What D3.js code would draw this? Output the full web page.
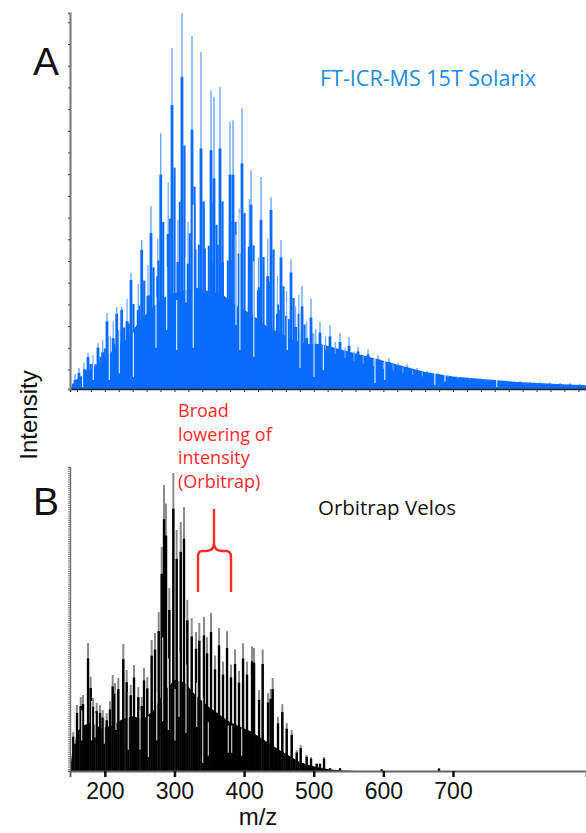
<!DOCTYPE html>
<meta charset="utf-8">
<title>FT-ICR-MS vs Orbitrap</title>
<script src="https://cdnjs.cloudflare.com/ajax/libs/d3/7.8.5/d3.min.js"></script>
<style>
  body { margin: 0; background: #fff; }
  svg { display: block; }
  .lbl { font-family: "Liberation Sans", Arial, sans-serif; fill: #111; }
  .note { font-family: "Open Sans", sans-serif; }
</style>
<body>
<svg></svg>
<script>
var width = 586, height = 833;

// panel A (FT-ICR) : main clusters [m/z, tip, body]
var clustersA = [
  [157.2, 4, 2.4], [162.9, 5.6, 4.3], [175.9, 9.6, 8.5], [190.2, 12.2, 11],
  [203.1, 20.2, 18], [217.1, 21.8, 20], [224.2, 21.8, 21], [237.6, 30.9, 29],
  [253, 39.6, 37], [266.3, 48.7, 41.5], [280.3, 68, 57], [296.5, 90.7, 75.5],
  [310.8, 100, 83], [325.2, 93.9, 69], [338.1, 89.6, 64], [352.5, 79.3, 63.5],
  [356.8, 77.7, 56], [365.4, 80.3, 64], [379.8, 71, 57], [384.1, 71.5, 57],
  [397, 74.7, 60], [410, 58.2, 49], [424.3, 56.4, 45], [438.7, 51, 47.6],
  [453, 39.6, 35], [467.4, 34.6, 31], [478.9, 25, 20], [483.2, 27.4, 22],
  [496.1, 24, 19], [509, 17.8, 15], [523.4, 17, 14], [537.8, 14.9, 12.5],
  [550.7, 13.8, 11.5], [563.6, 11.2, 10], [578, 10.6, 9.2], [592.3, 9, 8],
  [608.1, 8.2, 7.2], [621, 6.9, 6.2], [634, 6.6, 5.8], [648.3, 5.6, 5],
  [662.7, 4.8, 4.4], [678.5, 4.3, 3.9], [692.9, 3.5, 3.2], [707.2, 3.2, 2.9],
  [724.5, 2.9, 2.6], [738.8, 2.9, 2.5], [753.2, 2.6, 2.3], [767.5, 2.4, 2.1],
  [781.9, 2.2, 1.9], [796.3, 2.1, 1.8], [810.6, 1.9, 1.6], [825, 1.8, 1.5],
  [839.4, 1.7, 1.4], [853.7, 1.6, 1.3], [868.1, 1.5, 1.2], [882.4, 1.4, 1.1]
];
// smaller peaks between clusters [m/z, height]
var minorA = [
  [170, 7], [183, 9], [197, 13], [212, 18], [232, 24], [248, 28], [262, 33],
  [276, 40], [291, 55], [305, 45], [319.5, 44.4], [329.5, 49.5], [343, 49.8],
  [369, 45], [393, 48], [407.5, 50.5], [420.5, 35], [434, 40], [448, 30], [461, 26],
  [474, 22], [490, 18], [503, 16], [517, 14], [531, 12.5], [545, 11], [558, 10],
  [571, 9], [586, 8], [600, 7.2], [614, 6.5], [628, 5.8], [642, 5], [656, 4.5]
];
// continuous background level [m/z, intensity]
var floorA = [
  [150, 0], [157, 2], [170, 4], [190, 6.5], [210, 10], [230, 13], [250, 18],
  [270, 22], [290, 25], [310, 26], [330, 27], [350, 26], [370, 25], [390, 22],
  [410, 20], [430, 17], [450, 15], [470, 13], [490, 12], [510, 12], [530, 11],
  [550, 10], [570, 9], [600, 7.5], [630, 6], [660, 4.5], [700, 3.3], [750, 2.5],
  [800, 1.8], [850, 1.3], [891, 1]
];
// low points inside the fill [m/z, low, high]
var gapsA = [
  [168, 0.5, 6], [183.5, 2.4, 7], [206.5, 2.4, 15], [220.8, 4.2, 19], [241, 3.2, 15],
  [273.5, 11, 24.5], [288.8, 15.7, 32.5], [303.2, 10.4, 23.7], [316.6, 23, 35],
  [327, 11, 49], [388.4, 17, 41], [394, 10.4, 46.8], [414, 8.6, 34], [446.8, 20, 28],
  [462, 10.4, 23], [480.3, 5.6, 26], [500.4, 3.2, 15.7], [513.8, 5, 17.5],
  [588, 1.6, 8.5], [602, 2.4, 7.7], [674, 1, 4.3], [688.5, 1.9, 4], [762.8, 0.5, 2.4]
];

// panel B (Orbitrap) : spikes [m/z, intensity]
var spikesB = [
  [154.7, 12.8], [160.1, 21.7], [165.4, 24.3], [168.7, 25], [175.9, 42.1], [179.7, 31],
  [183, 24], [188.3, 22.4], [193.1, 21.7], [197, 20], [202.7, 19], [207.4, 23],
  [211.3, 31.6], [214.6, 28.9], [219.4, 30.6], [226.5, 41.8], [231.4, 33.2], [237.2, 28.3],
  [241.9, 34.9], [248.1, 27.6], [253, 24.3], [256.3, 33.9], [261, 30.9], [267.3, 43.1],
  [272.1, 45.4], [277.4, 52.3], [281.7, 73.7], [285, 94.1], [287.9, 88], [292.6, 60.2],
  [298.4, 98], [303.2, 79.3], [309, 81.9], [313.7, 86.8], [318.5, 56.3], [324.8, 50.3],
  [331, 45.7], [335.7, 48.7], [342.4, 50.7], [346.8, 44], [352.5, 52], [358.2, 38],
  [364, 47], [369.7, 36], [375.5, 46], [381.2, 35], [387, 40], [392.7, 33], [398.5, 42],
  [404.2, 36], [411.4, 41], [414.3, 40.5], [421.5, 26.6], [426.7, 40], [434.4, 25.6],
  [438.2, 27], [441.1, 30.6], [448.7, 17.8], [454.9, 22], [461.2, 15.8], [468.4, 13.5],
  [475.6, 6.9], [481.3, 8.5], [489.9, 5.3], [496.1, 4.6], [504.3, 2.6], [509, 2.6],
  [514.8, 4.6], [523.4, 1], [537.8, 1], [597.6, 0.6], [679.9, 0.9]
];
var floorB = [
  [150, 0], [153, 6], [160, 13], [170, 15], [180, 16], [195, 14], [210, 15], [225, 17],
  [240, 18], [255, 17], [270, 20], [285, 26], [300, 30], [315, 29], [330, 25],
  [350, 21], [380, 16], [410, 13], [430, 10], [450, 7], [465, 5], [480, 3],
  [495, 1.8], [510, 1], [525, 0.5], [540, 0.2], [560, 0]
];
var gapsB = [
  [157.2, 9, 21], [166.8, 10, 20], [181, 10, 23], [186, 11, 19], [199.3, 9, 18],
  [216, 13.5, 26.6], [233.7, 7, 26], [250.5, 7, 20], [262.5, 4.6, 18], [274.5, 10, 26],
  [283.1, 16.4, 44], [291.2, 13.5, 37], [300.8, 10, 27], [306.5, 17.8, 39],
  [316.6, 12.5, 35], [332, 14.5, 29], [340.6, 2.6, 24], [348.6, 5, 16],
  [377.3, 6, 15], [382.2, 6, 15], [396.6, 5, 14]
];
var ticksB = [200, 300, 400, 500, 600, 700];

var svg = d3.select("svg").attr("width", width).attr("height", height);

var x = d3.scaleLinear().domain([150, 891]).range([70, 586]);
var yA = d3.scaleLinear().domain([0, 100]).range([389, 13]);
var yB = d3.scaleLinear().domain([0, 100]).range([771, 467]);

var blue = "#0a6cff", blueTip = "#6aa6ff";

function vline(sel, xf, y1f, y2f, color, w) {
  sel.attr("x1", xf).attr("x2", xf).attr("y1", y1f).attr("y2", y2f)
     .attr("stroke", color).attr("stroke-width", w);
}

// ---- panel A ----
var gA = svg.append("g");

gA.append("path")
    .datum(floorA)
    .attr("fill", blue)
    .attr("d", d3.area().x(function(d) { return x(d[0]); }).y0(yA(0)).y1(function(d) { return yA(d[1]); }));

// minor peaks: a thin spike on a narrow base
vline(gA.selectAll(".minor").data(minorA).enter().append("line"),
    function(d) { return x(d[0]); }, yA(0), function(d) { return yA(d[1]); }, blueTip, 1.2);
gA.selectAll(".minorBody")
    .data(minorA)
  .enter().append("rect")
    .attr("x", function(d) { return x(d[0]) - 1.5; })
    .attr("width", 3)
    .attr("y", function(d) { return yA(d[1] * 0.75); })
    .attr("height", function(d) { return yA(0) - yA(d[1] * 0.75); })
    .attr("fill", blue);

// main clusters: thin light tip, solid body with stepped shoulders
vline(gA.selectAll(".tip").data(clustersA).enter().append("line"),
    function(d) { return x(d[0]); }, yA(0), function(d) { return yA(d[1]); }, blueTip, 1.4);

var cl = gA.selectAll(".cluster").data(clustersA).enter().append("g");
cl.append("rect")
    .attr("x", function(d) { return x(d[0]) - 3.2; })
    .attr("width", 2)
    .attr("y", function(d) { return yA(d[2] * 0.6); })
    .attr("height", function(d) { return yA(0) - yA(d[2] * 0.6); })
    .attr("fill", blue);
cl.append("rect")
    .attr("x", function(d) { return x(d[0]) - 1.4; })
    .attr("width", 2.8)
    .attr("y", function(d) { return yA(d[2]); })
    .attr("height", function(d) { return yA(0) - yA(d[2]); })
    .attr("fill", blue);
cl.append("rect")
    .attr("x", function(d) { return x(d[0]) + 1.4; })
    .attr("width", 2.2)
    .attr("y", function(d) { return yA(d[2] * 0.78); })
    .attr("height", function(d) { return yA(0) - yA(d[2] * 0.78); })
    .attr("fill", blue);

vline(gA.selectAll(".gap").data(gapsA).enter().append("line"),
    function(d) { return x(d[0]); }, function(d) { return yA(d[1]); }, function(d) { return yA(d[2]); }, "#eaf2ff", 1.1);

// axes A
gA.append("g")
    .attr("transform", "translate(0," + yA(0) + ")")
    .call(d3.axisBottom(x).tickValues(d3.range(160, 891, 20)).tickSize(3).tickFormat(""))
    .call(function(g) {
      g.select(".domain").attr("stroke", "#222").attr("stroke-width", 1.5);
      g.selectAll(".tick line").attr("stroke", "#333");
    });

gA.append("g")
    .attr("transform", "translate(" + x(150) + ",0)")
    .call(d3.axisLeft(yA).tickValues(d3.range(5.2, 100, 5.77)).tickSize(2).tickFormat(""))
    .call(function(g) {
      g.select(".domain").attr("stroke", "#808080").attr("stroke-width", 2.2);
      g.selectAll(".tick line").attr("stroke", "#444");
    });

// ---- panel B ----
var gB = svg.append("g");

gB.append("path")
    .datum(floorB)
    .attr("fill", "#000")
    .attr("d", d3.area().x(function(d) { return x(d[0]); }).y0(yB(0)).y1(function(d) { return yB(d[1]); }));

vline(gB.selectAll(".tipB").data(spikesB).enter().append("line"),
    function(d) { return x(d[0]); }, yB(0), function(d) { return yB(d[1]); }, "#8a8a8a", 2);
vline(gB.selectAll(".bodyB").data(spikesB).enter().append("line"),
    function(d) { return x(d[0]); }, yB(0), function(d) { return yB(d[1] * 0.88); }, "#000", 2.4);
vline(gB.selectAll(".gapB").data(gapsB).enter().append("line"),
    function(d) { return x(d[0]); }, function(d) { return yB(d[1]); }, function(d) { return yB(d[2]); }, "#d8d8d8", 1.1);

gB.append("g")
    .attr("transform", "translate(" + x(150) + ",0)")
    .call(d3.axisLeft(yB).tickValues(d3.range(0, 100.1, 0.7)).tickSize(2).tickFormat(""))
    .call(function(g) {
      g.select(".domain").attr("stroke", "#777").attr("stroke-width", 1.5);
      g.selectAll(".tick line").attr("stroke", "#666").attr("stroke-width", 0.8);
    });

gB.append("g")
    .attr("transform", "translate(0," + yB(0) + ")")
    .call(d3.axisBottom(x).tickValues(ticksB).tickSize(6).tickPadding(6))
    .call(function(g) {
      g.select(".domain").attr("stroke", "#666").attr("stroke-width", 2);
      g.selectAll(".tick line").attr("stroke", "#111").attr("stroke-width", 2.5);
      g.selectAll(".tick text")
        .attr("class", "lbl")
        .attr("font-size", 23)
        .attr("fill", "#111");
    });

// ---- labels ----
svg.append("text").attr("class", "lbl").attr("x", 33).attr("y", 75).attr("font-size", 39).text("A");
svg.append("text").attr("class", "lbl").attr("x", 33).attr("y", 515).attr("font-size", 39).text("B");
svg.append("text").attr("class", "lbl").attr("font-size", 24)
    .attr("transform", "translate(37,415) rotate(-90)").attr("text-anchor", "middle").text("Intensity");
svg.append("text").attr("class", "lbl").attr("font-size", 24)
    .attr("x", 258).attr("y", 825).attr("text-anchor", "middle").text("m/z");

svg.append("text").attr("class", "note").attr("x", 320).attr("y", 86)
    .attr("font-size", 21.5).attr("fill", "#1a8ce0").text("FT-ICR-MS 15T Solarix");
svg.append("text").attr("class", "note").attr("x", 318).attr("y", 515)
    .attr("font-size", 20.5).attr("fill", "#111").text("Orbitrap Velos");

var red = "#ff2a2a";
var noteLines = ["Broad", "lowering of", "intensity", "(Orbitrap)"];
svg.append("g").selectAll("text")
    .data(noteLines)
  .enter().append("text")
    .attr("class", "note")
    .attr("x", 178)
    .attr("y", function(d, i) { return 417 + i * 23.7; })
    .attr("font-size", 18)
    .attr("fill", red)
    .text(function(d) { return d; });

// curly bracket
svg.append("path")
    .attr("d", "M214,509 L214,543 Q214,551 206,551 L202,551 Q198,551 198,557 L198,592" +
               " M214,543 Q214,551 222,551 L226,551 Q231,551 231,557 L231,592")
    .attr("fill", "none").attr("stroke", red).attr("stroke-width", 2.4);
</script>
</body>
